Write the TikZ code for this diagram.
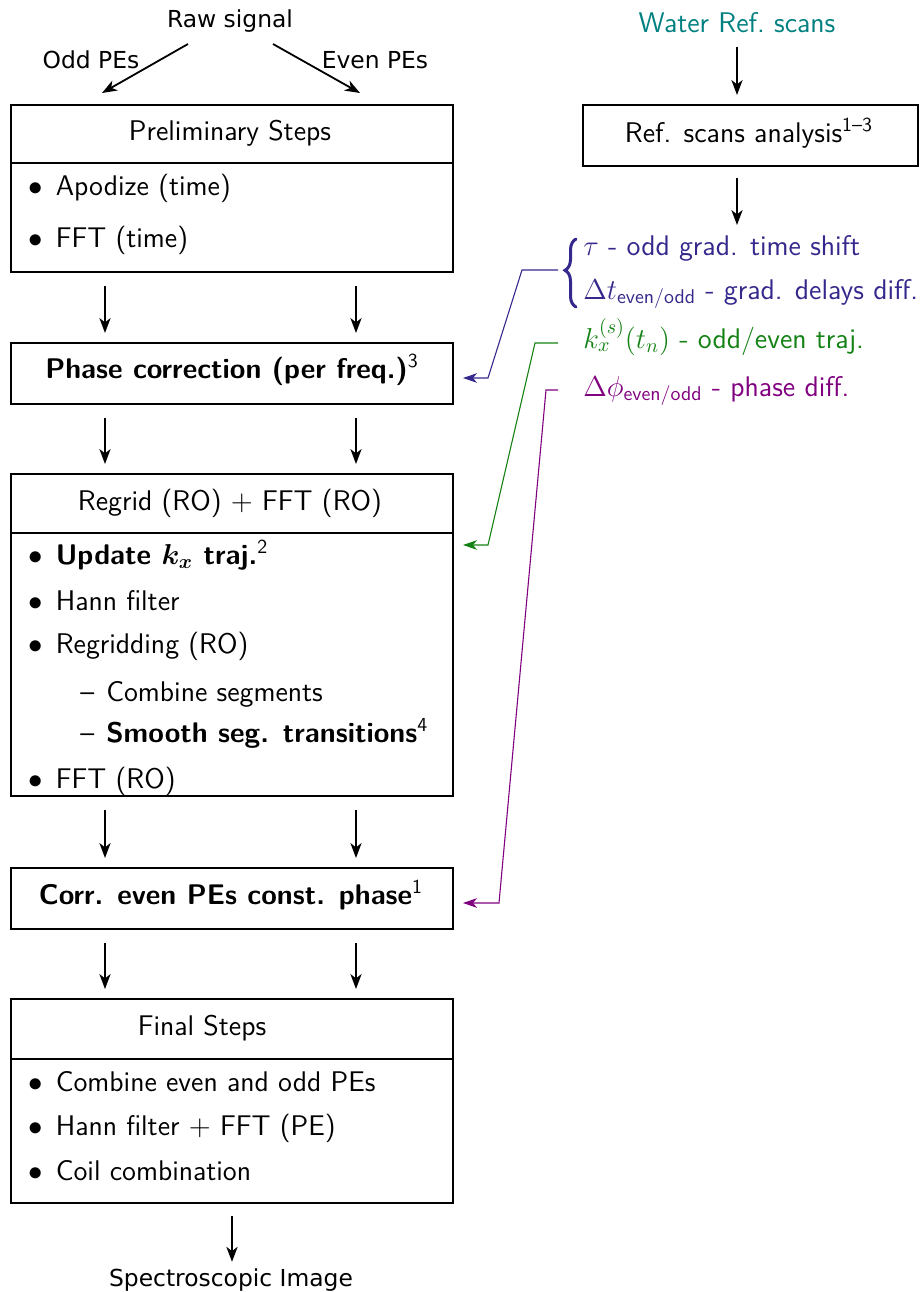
\documentclass[tikz,border=0pt]{standalone}
\usepackage{amsmath}
\usepackage{fontspec}
\newfontfamily\dejavu{DejaVu Sans}
\usetikzlibrary{arrows.meta,decorations.pathreplacing}
\definecolor{refblue}{RGB}{52,40,140}
\definecolor{trajgreen}{RGB}{20,130,20}
\definecolor{phasepurple}{RGB}{128,0,128}
\definecolor{waterteal}{RGB}{0,128,128}

\begin{document}
\begin{tikzpicture}[x=0.5pt,y=-0.5pt,
  stage/.style={draw, line width=1pt, anchor=north west, inner sep=0pt, minimum width=221pt},
  body/.style={font=\sffamily\fontsize{14.2}{17}\selectfont, inner sep=0pt},
  title/.style={body, anchor=base},
  entry/.style={body, anchor=base west},
  tag/.style={font=\dejavu\fontsize{11.7}{14}\selectfont, inner sep=0pt, anchor=base},
  divider/.style={line width=0.6pt},
  flow/.style={line width=0.9pt, -{Stealth[length=7.5pt,width=5.6pt,inset=2.2pt]}},
  feed/.style={line width=0.55pt, -{Stealth[length=7pt,width=4.8pt,inset=2pt]}},
]
\useasboundingbox (0,0) rectangle (920,1292);

% ---------- input split ----------
\node[tag] (raw) at (230,27) {Raw signal};
\node[tag] (oddlab) at (91,68) {Odd PEs};
\node[tag] (evenlab) at (375,68) {Even PEs};
\coordinate (rawl) at (188,44);
\coordinate (rawr) at (273,44);
\coordinate (oddin) at (102,93);
\coordinate (evenin) at (360,93);
\draw[flow] (rawl) -- (oddin);
\draw[flow] (rawr) -- (evenin);

% column positions of the two PE streams
\coordinate (col1) at (105,0);
\coordinate (col2) at (356,0);

% ---------- preliminary steps ----------
\node[stage, minimum height=83.5pt] (prelim) at (10,104) {};
\draw[divider] ([yshift=-29.5pt]prelim.north west) -- ([yshift=-29.5pt]prelim.north east);
\node[title] (prelimT) at (230,140) {Preliminary Steps};
\node[entry] (prelimA) at (28,195) {$\bullet$\hspace{6.5pt}Apodize (time)};
\node[entry] (prelimB) at (28,247) {$\bullet$\hspace{6.5pt}FFT (time)};

% ---------- phase correction ----------
\node[stage, minimum height=30.5pt] (phase) at (10,342) {};
\node[title] (phaseT) at (232,378) {\bfseries Phase correction (per freq.)\textsuperscript{\mdseries 3}};

% ---------- regrid + FFT ----------
\node[stage, minimum height=161pt] (regrid) at (10,473) {};
\draw[divider] ([yshift=-30pt]regrid.north west) -- ([yshift=-30pt]regrid.north east);
\node[title] (regridT) at (230,510) {Regrid (RO) $+$ FFT (RO)};
\node[entry] (regridA) at (28,564) {$\bullet$\hspace{6.5pt}{\bfseries\boldmath Update $k_x$ traj.}\textsuperscript{2}};
\node[entry] (regridB) at (28,610) {$\bullet$\hspace{6.5pt}Hann filter};
\node[entry] (regridC) at (28,653) {$\bullet$\hspace{6.5pt}Regridding (RO)};
\node[entry] (regridD) at (80,701) {\textendash\hspace{6pt}Combine segments};
\node[entry] (regridE) at (80,742) {\textendash\hspace{6pt}{\bfseries Smooth seg. transitions}\textsuperscript{4}};
\node[entry] (regridF) at (28,788) {$\bullet$\hspace{6.5pt}FFT (RO)};

% ---------- constant phase ----------
\node[stage, minimum height=30.5pt] (corr) at (10,867) {};
\node[title] (corrT) at (231,904) {\bfseries Corr. even PEs const. phase\textsuperscript{\mdseries 1}};

% ---------- final steps ----------
\node[stage, minimum height=102pt] (final) at (10,998) {};
\draw[divider] ([yshift=-30.5pt]final.north west) -- ([yshift=-30.5pt]final.north east);
\node[title] (finalT) at (202,1035) {Final Steps};
\node[entry] (finalA) at (28,1091) {$\bullet$\hspace{6.5pt}Combine even and odd PEs};
\node[entry] (finalB) at (28,1135) {$\bullet$\hspace{6.5pt}Hann filter $+$ FFT (PE)};
\node[entry] (finalC) at (28,1180) {$\bullet$\hspace{6.5pt}Coil combination};

\node[tag] (spec) at (231,1286) {Spectroscopic Image};

% ---------- main flow arrows ----------
\foreach \a/\b in {prelim/phase, phase/regrid, regrid/corr, corr/final}{
  \draw[flow, shorten <=6.5pt, shorten >=4.5pt] (\a.south -| col1) -- (\b.north -| col1);
  \draw[flow, shorten <=6.5pt, shorten >=4.5pt] (\a.south -| col2) -- (\b.north -| col2);
}
\draw[flow, shorten <=6pt, shorten >=3pt] (final.south) -- (final.south |- spec.north);

% ---------- water reference branch ----------
\node[body, anchor=base, text=waterteal] (water) at (737,32) {Water Ref.\ scans};
\node[stage, minimum width=167.5pt, minimum height=30.5pt] (ref) at (582,104) {};
\node[title] (refT) at (749,142) {Ref. scans analysis\textsuperscript{1--3}};
\draw[flow, shorten <=7pt, shorten >=4.5pt] (water.south) -- (water.south |- ref.north);
\coordinate (refout) at (737,225);
\draw[flow, shorten <=5.5pt] (ref.south -| refout) -- (refout);

% parameters from the reference scans
\draw[refblue, line width=1.5pt, line cap=round, decorate,
      decoration={brace, amplitude=5.5pt, aspect=0.54}] (576,307) -- (576,239);
\node[entry, text=refblue] (tau) at (583,255) {$\tau$ - odd grad. time shift};
\node[entry, text=refblue] (dt) at (583,299) {$\Delta t_{\textsf{even/odd}}$ - grad. delays diff.};
\node[entry, text=trajgreen] (kx) at (583,348) {$k_x^{(s)}(t_n)$ - odd/even traj.};
\node[entry, text=phasepurple] (dphi) at (583,396) {$\Delta\phi_{\textsf{even/odd}}$ - phase diff.};

% feedback connectors into the reconstruction steps
\coordinate (bs) at (558,270);
\coordinate (b1) at (522,270);
\coordinate (b2) at (488,378);
\draw[feed, refblue, shorten >=4.5pt] (bs) -- (b1) -- (b2) -- (b2 -| phase.east);

\coordinate (gs) at (558,343);
\coordinate (g1) at (535,343);
\coordinate (g2) at (488,545);
\draw[feed, trajgreen, shorten >=4.5pt] (gs) -- (g1) -- (g2) -- (g2 -| regrid.east);

\coordinate (ps) at (558,390);
\coordinate (p1) at (546,390);
\coordinate (p2) at (499,903);
\draw[feed, phasepurple, shorten >=4.5pt] (ps) -- (p1) -- (p2) -- (p2 -| corr.east);
\end{tikzpicture}
\end{document}
